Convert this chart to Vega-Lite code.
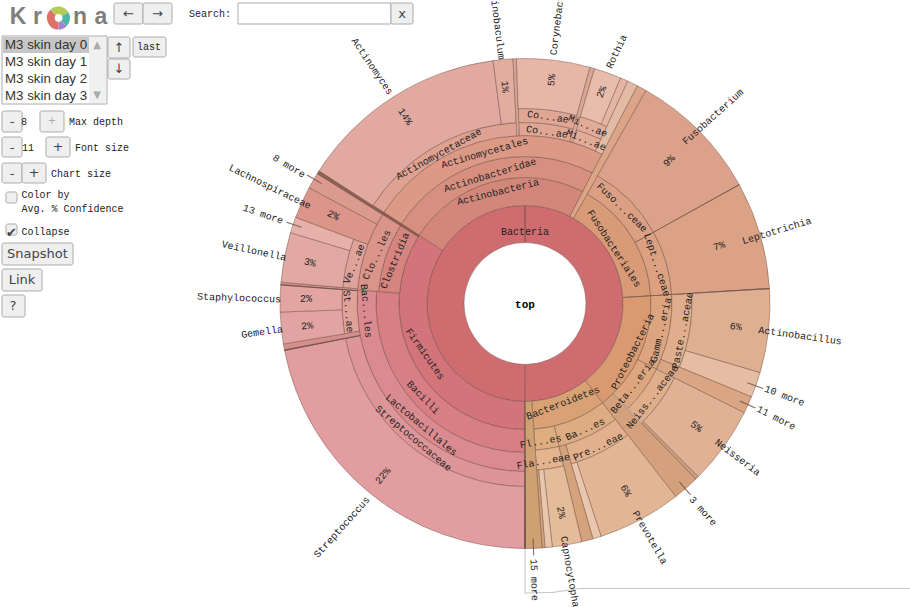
{"$schema":"https://vega.github.io/schema/vega-lite/v6.json","width":910,"height":607,"autosize":{"type":"none"},"padding":0,"background":"#ffffff","config":{"view":{"stroke":null}},
"datasets":{
"wedges":[
{"node":"Bacteria","t0":0,"t1":360,"r0":61,"r1":98},
{"node":"Firmicutes","t0":180,"t1":302.8,"r0":98,"r1":126},
{"node":"Actinobacteria","t0":-57.2,"t1":27.3,"r0":98,"r1":126},
{"node":"Fusobacteriales","t0":29.6,"t1":86.5,"r0":98,"r1":126},
{"node":"Proteobacteria","t0":86.5,"t1":142,"r0":98,"r1":126},
{"node":"Bacteroidetes","t0":142,"t1":176,"r0":98,"r1":126},
{"node":"Bacilli","t0":180,"t1":274.7,"r0":126,"r1":149},
{"node":"Clostridia","t0":274.7,"t1":302.8,"r0":126,"r1":147},
{"node":"Actinobacteridae","t0":-57.2,"t1":27.3,"r0":126,"r1":147},
{"node":"Fuso...ceae","t0":29.6,"t1":61,"r0":126,"r1":147},
{"node":"Lept...ceae","t0":61,"t1":86.5,"r0":126,"r1":147},
{"node":"Gamm...eria","t0":86.5,"t1":116.5,"r0":126,"r1":147},
{"node":"Beta...eria","t0":116.5,"t1":135.5,"r0":126,"r1":147},
{"node":"Ba...es","t0":142,"t1":166.6,"r0":126,"r1":147},
{"node":"Fl...es","t0":166.6,"t1":176,"r0":126,"r1":147},
{"node":"Lactobacillales","t0":180,"t1":274.7,"r0":149,"r1":168},
{"node":"Clo...les","t0":274.7,"t1":302.8,"r0":147,"r1":168},
{"node":"Actinomycetales","t0":-57.2,"t1":27.3,"r0":147,"r1":168},
{"node":"Paste...aceae","t0":86.5,"t1":112.4,"r0":147,"r1":167},
{"node":"Neiss...aceae","t0":116.5,"t1":135.5,"r0":147,"r1":167},
{"node":"Pre...eae","t0":142,"t1":163.9,"r0":147,"r1":167},
{"node":"Fla...eae","t0":166.6,"t1":176,"r0":147,"r1":167},
{"node":"Streptococcaceae","t0":180,"t1":259,"r0":168,"r1":183},
{"node":"St...ae","t0":260.5,"t1":274.5,"r0":168,"r1":183},
{"node":"Ve...ae","t0":275,"t1":290.6,"r0":168,"r1":183},
{"node":"Actinomycetaceae","t0":-57.2,"t1":-2.5,"r0":168,"r1":181},
{"node":"Co...ae","t0":-2,"t1":15.9,"r0":168,"r1":181},
{"node":"Mi...ae","t0":15.9,"t1":24.8,"r0":168,"r1":181},
{"node":"Co...ae","t0":-2,"t1":15.9,"r0":181,"r1":195},
{"node":"Mi...ae","t0":15.9,"t1":24.8,"r0":181,"r1":195},
{"node":"Streptococcus","t0":180,"t1":259,"r0":183,"r1":245},
{"node":"sliver red","t0":259,"t1":260.5,"r0":168,"r1":245},
{"node":"Gemella","t0":260.5,"t1":268,"r0":183,"r1":245},
{"node":"Staphylococcus","t0":268,"t1":274.5,"r0":183,"r1":245},
{"node":"sliver red","t0":274.4,"t1":275,"r0":168,"r1":245},
{"node":"Veillonella","t0":275,"t1":286.8,"r0":183,"r1":245},
{"node":"13 more","t0":286.8,"t1":290.6,"r0":183,"r1":245},
{"node":"Lachnospiraceae","t0":290.6,"t1":298.2,"r0":168,"r1":245},
{"node":"8 more","t0":298.2,"t1":302,"r0":168,"r1":245},
{"node":"dark","t0":302,"t1":302.8,"r0":126,"r1":245},
{"node":"Actinomyces","t0":-57.2,"t1":-7.5,"r0":181,"r1":245},
{"node":"Actinobaculum","t0":-7.5,"t1":-2.8,"r0":181,"r1":245},
{"node":"sliver tan","t0":-2.8,"t1":-2,"r0":168,"r1":245},
{"node":"Corynebacterium","t0":-2,"t1":15.4,"r0":195,"r1":245},
{"node":"sliver tan","t0":15.4,"t1":16.5,"r0":168,"r1":245},
{"node":"Rothia","t0":16.5,"t1":23,"r0":195,"r1":245},
{"node":"sliver rothia","t0":23,"t1":24.8,"r0":195,"r1":245},
{"node":"hatch rothia","t0":24.8,"t1":27.3,"r0":168,"r1":245},
{"node":"band orange","t0":27.3,"t1":29.6,"r0":98,"r1":245},
{"node":"Fusobacterium","t0":29.6,"t1":61,"r0":147,"r1":245},
{"node":"Leptotrichia","t0":61,"t1":86.5,"r0":147,"r1":245},
{"node":"Actinobacillus","t0":86.5,"t1":106.4,"r0":167,"r1":245},
{"node":"10 more","t0":106.4,"t1":112.4,"r0":167,"r1":245},
{"node":"11 more","t0":112.4,"t1":116.5,"r0":147,"r1":245},
{"node":"Neisseria","t0":116.5,"t1":135,"r0":167,"r1":245},
{"node":"sliver neisseria","t0":135,"t1":135.8,"r0":167,"r1":245},
{"node":"3 more","t0":135.8,"t1":142,"r0":126,"r1":245},
{"node":"Prevotella","t0":142,"t1":161.9,"r0":167,"r1":245},
{"node":"hatch light","t0":161.9,"t1":163.9,"r0":167,"r1":245},
{"node":"hatch dark","t0":163.9,"t1":166.6,"r0":147,"r1":245},
{"node":"Capnocytophaga","t0":166.6,"t1":173.6,"r0":167,"r1":245},
{"node":"hatch light","t0":173.6,"t1":175.3,"r0":167,"r1":245},
{"node":"hatch dark","t0":175.3,"t1":176,"r0":167,"r1":245},
{"node":"15 more","t0":176,"t1":180,"r0":98,"r1":245}
],
"dividers":[
{"edge":"root","t0":179.75,"t1":180.25,"r0":61,"r1":245},
{"edge":"proteo","t0":86.35,"t1":86.65,"r0":98,"r1":245},
{"edge":"fuso","t0":60.9,"t1":61.1,"r0":126,"r1":245},
{"edge":"staph","t0":274.2,"t1":274.5,"r0":168,"r1":245},
{"edge":"gemella","t0":258.85,"t1":259.15,"r0":168,"r1":245},
{"edge":"8 more","t0":300.4,"t1":300.65,"r0":236,"r1":253},
{"edge":"13 more","t0":288.7,"t1":288.95,"r0":236,"r1":252},
{"edge":"10 more","t0":109.5,"t1":109.75,"r0":236,"r1":253},
{"edge":"11 more","t0":114.3,"t1":114.55,"r0":236,"r1":253},
{"edge":"3 more","t0":139,"t1":139.25,"r0":236,"r1":253},
{"edge":"15 more","t0":177.9,"t1":178.15,"r0":235,"r1":252}
],
"labels":[
{"label":"Actinomyces","t":327.2,"r":282,"rot":56},
{"label":"Actinobaculum","t":354.3,"r":284,"rot":83},
{"label":"Corynebacterium","t":6.6,"r":295,"rot":-83},
{"label":"Rothia","t":20,"r":268,"rot":-65},
{"label":"Fusobacterium","t":45.2,"r":265,"rot":-42},
{"label":"Leptotrichia","t":73.9,"r":262,"rot":-17},
{"label":"Actinobacillus","t":96.7,"r":277,"rot":8},
{"label":"10 more","t":109.6,"r":275.5,"rot":21},
{"label":"11 more","t":114.5,"r":276,"rot":27},
{"label":"Neisseria","t":125.9,"r":262.4,"rot":37},
{"label":"3 more","t":139.4,"r":273.4,"rot":48},
{"label":"Prevotella","t":151.9,"r":265.3,"rot":60},
{"label":"Capnocytophaga","t":170.5,"r":278,"rot":80},
{"label":"15 more","t":178.1,"r":276.6,"rot":88},
{"label":"Streptococcus","t":219.3,"r":289,"rot":-48},
{"label":"Gemella","t":263.8,"r":264.5,"rot":-8},
{"label":"Staphylococcus","t":271.1,"r":286,"rot":2},
{"label":"Veillonella","t":281,"r":276,"rot":12},
{"label":"13 more","t":288.8,"r":276.7,"rot":19},
{"label":"Lachnospiraceae","t":294.6,"r":280.4,"rot":26},
{"label":"8 more","t":300.2,"r":273,"rot":31},
{"label":"14%","t":327.3,"r":222,"rot":57},
{"label":"1%","t":354.7,"r":217.7,"rot":85},
{"label":"5%","t":6.8,"r":225,"rot":-83},
{"label":"2%","t":19.9,"r":225,"rot":-70},
{"label":"9%","t":45.3,"r":202.6,"rot":-45},
{"label":"7%","t":73.5,"r":202.6,"rot":-16},
{"label":"6%","t":96.3,"r":212,"rot":6},
{"label":"5%","t":125.7,"r":211,"rot":36},
{"label":"6%","t":151.7,"r":212.6,"rot":62},
{"label":"2%","t":170.2,"r":212,"rot":80},
{"label":"22%","t":219.5,"r":223.4,"rot":-50},
{"label":"2%","t":264.1,"r":219,"rot":-6},
{"label":"2%","t":271.2,"r":219,"rot":0},
{"label":"3%","t":280.8,"r":219,"rot":11},
{"label":"2%","t":294.7,"r":211,"rot":25},
{"label":"Bacteria","t":0,"r":72,"rot":0},
{"label":"Firmicutes","t":243.2,"r":112,"rot":55},
{"label":"Bacilli","t":227.3,"r":138.7,"rot":46},
{"label":"Lactobacillales","t":220.5,"r":159.7,"rot":40},
{"label":"Streptococcaceae","t":219.6,"r":175,"rot":40},
{"label":"Clostridia","t":288.2,"r":136.9,"rot":-67},
{"label":"Clo...les","t":288.2,"r":156,"rot":-65},
{"label":"Ve...ae","t":283,"r":175.5,"rot":-68},
{"label":"Bac...les","t":267.3,"r":159,"rot":85},
{"label":"St...ae","t":267.4,"r":177,"rot":85},
{"label":"Actinomycetaceae","t":330,"r":172.5,"rot":-29},
{"label":"Actinomycetales","t":345,"r":155.9,"rot":-16},
{"label":"Actinobacteridae","t":344.8,"r":133,"rot":-17},
{"label":"Actinobacteria","t":346.4,"r":114.7,"rot":-14},
{"label":"Co...ae","t":7,"r":188,"rot":8},
{"label":"Mi...ae","t":19.5,"r":188.3,"rot":24},
{"label":"Co...ae","t":7.3,"r":173,"rot":8},
{"label":"Mi...ae","t":20.5,"r":174.5,"rot":22},
{"label":"Fusobacteriales","t":58.3,"r":104.6,"rot":57},
{"label":"Fuso...ceae","t":45.3,"r":136.5,"rot":44},
{"label":"Lept...ceae","t":73.7,"r":137.5,"rot":72},
{"label":"Proteobacteria","t":114,"r":118,"rot":-63},
{"label":"Gamm...eria","t":101,"r":138.6,"rot":-77},
{"label":"Beta...eria","t":127.5,"r":136,"rot":-52},
{"label":"Paste...aceae","t":99.7,"r":160,"rot":-79},
{"label":"Neiss...aceae","t":126.3,"r":158,"rot":-52},
{"label":"Bacteroidetes","t":159,"r":106.5,"rot":-21},
{"label":"Fl...es","t":173.5,"r":139,"rot":-10},
{"label":"Ba...es","t":154.4,"r":139.5,"rot":-24},
{"label":"Fla...eae","t":173.4,"r":158.9,"rot":-10},
{"label":"Pre...eae","t":153,"r":161,"rot":-25}
],
"buttons":[
{"x":114,"x2":143,"y":3,"y2":24},{"x":143,"x2":172,"y":3,"y2":24},{"x":391,"x2":413,"y":3,"y2":24},
{"x":108,"x2":130,"y":37,"y2":58},{"x":108,"x2":130,"y":59,"y2":79},{"x":133,"x2":166,"y":37,"y2":57},
{"x":2,"x2":22,"y":111,"y2":132},{"x":40,"x2":64,"y":111,"y2":132},
{"x":2,"x2":22,"y":137,"y2":157},{"x":46,"x2":70,"y":137,"y2":157},
{"x":2,"x2":22,"y":163,"y2":183},{"x":22,"x2":46,"y":163,"y2":183},
{"x":6,"x2":17,"y":192,"y2":203},{"x":6,"x2":17,"y":224,"y2":235},
{"x":2,"x2":73,"y":243,"y2":265},{"x":2,"x2":42,"y":269,"y2":291},{"x":2,"x2":25,"y":295,"y2":317}
],
"boxes":[{"x":238,"x2":391,"y":3,"y2":24},{"x":2,"x2":107,"y":36,"y2":104}],
"list":[{"x":89,"x2":106,"y":37,"y2":103,"part":"scroll"},{"x":3,"x2":89,"y":37,"y2":53,"part":"selected"}],
"frame":[{"x":525,"y":548,"i":0},{"x":525,"y":593,"i":1},{"x":552,"y":592.5,"i":2},{"x":580,"y":588.5,"i":3},{"x":910,"y":588.5,"i":4}],
"monoLeft":[
{"x":69,"y":122,"text":"Max depth"},{"x":75,"y":148,"text":"Font size"},{"x":51,"y":174,"text":"Chart size"},
{"x":21.5,"y":195,"text":"Color by"},{"x":21.5,"y":209,"text":"Avg. % Confidence"},{"x":21.5,"y":232,"text":"Collapse"},
{"x":189,"y":14,"text":"Search:"},{"x":21,"y":122,"text":"8"},{"x":22,"y":148,"text":"11"}
],
"monoCenter":[{"x":149,"y":47,"text":"last"}],
"sansLeft":[
{"x":5,"y":44.5,"text":"M3 skin day 0"},{"x":5,"y":61.5,"text":"M3 skin day 1"},{"x":5,"y":78.5,"text":"M3 skin day 2"},{"x":5,"y":95.5,"text":"M3 skin day 3"}
],
"sansCenter":[
{"x":402,"y":14,"text":"x"},{"x":128.5,"y":14,"text":"←"},{"x":157.5,"y":14,"text":"→"},{"x":119,"y":48,"text":"↑"},{"x":119,"y":69,"text":"↓"},
{"x":12,"y":122,"text":"-"},{"x":12,"y":148,"text":"-"},{"x":58,"y":147,"text":"+"},{"x":12,"y":174,"text":"-"},{"x":34,"y":173,"text":"+"},
{"x":11.5,"y":233,"text":"✔"},{"x":37.5,"y":254,"text":"Snapshot"},{"x":22,"y":280,"text":"Link"},{"x":13,"y":306,"text":"?"}
],
"grayCenter":[{"x":52,"y":121,"text":"+"},{"x":97,"y":45,"text":"▲"},{"x":97,"y":95,"text":"▼"}],
"logoLetters":[{"x":18,"y":17,"text":"K"},{"x":37.5,"y":17,"text":"r"},{"x":80,"y":17,"text":"n"},{"x":101,"y":17,"text":"a"}],
"wheel":[
{"slice":"red","t0":180,"t1":315,"x":58.5,"y":18},
{"slice":"green","t0":-45,"t1":60,"x":58.5,"y":18},
{"slice":"teal","t0":60,"t1":135,"x":58.5,"y":18},
{"slice":"purple","t0":135,"t1":180,"x":58.5,"y":18}
]
},
"layer":[
{"data":{"name":"frame"},"mark":{"type":"line","stroke":"#c4c4c4","strokeWidth":1},
"encoding":{"x":{"field":"x","type":"quantitative","scale":{"domain":[0,910],"range":[0,910],"nice":false},"axis":null},"y":{"field":"y","type":"quantitative","scale":{"domain":[0,607],"range":[0,607],"nice":false},"axis":null},"order":{"field":"i","type":"quantitative"}}},
{"data":{"name":"wedges"},"mark":{"type":"arc","stroke":"#5f4038","strokeWidth":0.8,"strokeOpacity":0.5},
"encoding":{
"x":{"datum":525,"type":"quantitative","axis":null},"y":{"datum":303.5,"type":"quantitative","axis":null},
"theta":{"field":"t0","type":"quantitative","stack":null,"scale":{"domain":[0,360],"range":[0,6.283185307]}},"theta2":{"field":"t1"},
"radius":{"field":"r1","type":"quantitative","scale":{"type":"linear","domain":[0,245],"range":[0,245],"nice":false}},"radius2":{"field":"r0"},
"fill":{"field":"node","type":"nominal","legend":null,"scale":{
"domain":["Bacteria","Firmicutes","Actinobacteria","Fusobacteriales","Proteobacteria","Bacteroidetes","Bacilli","Clostridia","Actinobacteridae","Fuso...ceae","Lept...ceae","Gamm...eria","Beta...eria","Ba...es","Fl...es","Lactobacillales","Clo...les","Actinomycetales","Paste...aceae","Neiss...aceae","Pre...eae","Fla...eae","Streptococcaceae","St...ae","Ve...ae","Actinomycetaceae","Co...ae","Mi...ae","Streptococcus","sliver red","Gemella","Staphylococcus","Veillonella","13 more","Lachnospiraceae","8 more","dark","Actinomyces","Actinobaculum","sliver tan","Corynebacterium","Rothia","sliver rothia","hatch rothia","band orange","Fusobacterium","Leptotrichia","Actinobacillus","10 more","11 more","Neisseria","sliver neisseria","3 more","Prevotella","hatch light","hatch dark","Capnocytophaga","15 more"],
"range":["#CE6C70","#D2747A","#D2877A","#D99A78","#D99A72","#D9A274","#D77F84","#D58480","#D79080","#DBA083","#DCA181","#DDA57F","#DEA67F","#DEAC83","#DFAE80","#DB8B8F","#DB9489","#DB9986","#E1AE8D","#E1AE8C","#E2B08D","#E3B48E","#DE9598","#E0A199","#E0A39B","#DFA192","#E0A693","#E2AB98","#E19DA0","#D58E8C","#E2A4A3","#E2A5A2","#E2A8A3","#E7B0A8","#DB9589","#DC9A8E","#8D5F55","#E2A9A0","#E2AC9F","#D9A595","#E6B6A8","#E7BCAB","#E4B5A2","#E3BBA5","#DCA588","#DBA18A","#DCA285","#DFAF92","#E6BDA3","#D9A583","#E0B194","#CD9D82","#D5A07C","#E2B694","#E8C7AD","#D6A27C","#E4BC9A","#CFA072"]}}}},
{"data":{"name":"dividers"},"mark":{"type":"arc","fill":"#6E5448","fillOpacity":0.85},
"encoding":{"x":{"datum":525,"type":"quantitative","axis":null},"y":{"datum":303.5,"type":"quantitative","axis":null},
"theta":{"field":"t0","type":"quantitative","stack":null},"theta2":{"field":"t1"},"radius":{"field":"r1","type":"quantitative"},"radius2":{"field":"r0"}}},
{"data":{"name":"labels"},"mark":{"type":"text","font":"Liberation Mono","fontSize":10,"fill":"#222222","align":"center","baseline":"middle"},
"encoding":{"x":{"datum":525,"type":"quantitative","axis":null},"y":{"datum":303.5,"type":"quantitative","axis":null},
"theta":{"field":"t","type":"quantitative","stack":null},"radius":{"field":"r","type":"quantitative"},"angle":{"field":"rot","type":"quantitative","scale":null},"text":{"field":"label"}}},
{"data":{"values":[{"label":"top"}]},"mark":{"type":"text","font":"Liberation Mono","fontSize":11,"fontWeight":"bold","fill":"#000000","align":"center","baseline":"middle"},
"encoding":{"x":{"datum":525,"type":"quantitative","axis":null},"y":{"datum":305,"type":"quantitative","axis":null},"text":{"field":"label"}}},
{"data":{"name":"boxes"},"mark":{"type":"rect","fill":"#ffffff","stroke":"#ababab","strokeWidth":1},
"encoding":{"x":{"field":"x","type":"quantitative","axis":null},"x2":{"field":"x2"},"y":{"field":"y","type":"quantitative","axis":null},"y2":{"field":"y2"}}},
{"data":{"name":"list"},"transform":[{"filter":"datum.part==='scroll'"}],"mark":{"type":"rect","fill":"#f0f0f0"},
"encoding":{"x":{"field":"x","type":"quantitative","axis":null},"x2":{"field":"x2"},"y":{"field":"y","type":"quantitative","axis":null},"y2":{"field":"y2"}}},
{"data":{"name":"list"},"transform":[{"filter":"datum.part==='selected'"}],"mark":{"type":"rect","fill":"#c6c6c6"},
"encoding":{"x":{"field":"x","type":"quantitative","axis":null},"x2":{"field":"x2"},"y":{"field":"y","type":"quantitative","axis":null},"y2":{"field":"y2"}}},
{"data":{"name":"buttons"},"mark":{"type":"rect","fill":"#efefef","stroke":"#ababab","strokeWidth":1,"cornerRadius":2},
"encoding":{"x":{"field":"x","type":"quantitative","axis":null},"x2":{"field":"x2"},"y":{"field":"y","type":"quantitative","axis":null},"y2":{"field":"y2"}}},
{"data":{"name":"monoLeft"},"mark":{"type":"text","font":"Liberation Mono","fontSize":10,"fill":"#222222","align":"left","baseline":"middle"},
"encoding":{"x":{"field":"x","type":"quantitative","axis":null},"y":{"field":"y","type":"quantitative","axis":null},"text":{"field":"text"}}},
{"data":{"name":"monoCenter"},"mark":{"type":"text","font":"Liberation Mono","fontSize":10,"fill":"#222222","align":"center","baseline":"middle"},
"encoding":{"x":{"field":"x","type":"quantitative","axis":null},"y":{"field":"y","type":"quantitative","axis":null},"text":{"field":"text"}}},
{"data":{"name":"sansLeft"},"mark":{"type":"text","font":"Liberation Sans","fontSize":13.3,"fill":"#333333","align":"left","baseline":"middle"},
"encoding":{"x":{"field":"x","type":"quantitative","axis":null},"y":{"field":"y","type":"quantitative","axis":null},"text":{"field":"text"}}},
{"data":{"name":"sansCenter"},"mark":{"type":"text","font":"DejaVu Sans","fontSize":13,"fill":"#444444","align":"center","baseline":"middle"},
"encoding":{"x":{"field":"x","type":"quantitative","axis":null},"y":{"field":"y","type":"quantitative","axis":null},"text":{"field":"text"}}},
{"data":{"name":"grayCenter"},"mark":{"type":"text","font":"DejaVu Sans","fontSize":10,"fill":"#aaaaaa","align":"center","baseline":"middle"},
"encoding":{"x":{"field":"x","type":"quantitative","axis":null},"y":{"field":"y","type":"quantitative","axis":null},"text":{"field":"text"}}},
{"data":{"name":"logoLetters"},"mark":{"type":"text","font":"Liberation Sans","fontSize":23,"fontWeight":"bold","fill":"#7f7f7f","align":"center","baseline":"middle"},
"encoding":{"x":{"field":"x","type":"quantitative","axis":null},"y":{"field":"y","type":"quantitative","axis":null},"text":{"field":"text"}}},
{"data":{"name":"wheel"},"mark":{"type":"arc","innerRadius":4},
"encoding":{"x":{"field":"x","type":"quantitative","axis":null},"y":{"field":"y","type":"quantitative","axis":null},
"theta":{"field":"t0","type":"quantitative","stack":null},"theta2":{"field":"t1"},"radius":{"datum":11.5,"type":"quantitative"},
"fill":{"field":"slice","type":"nominal","legend":null,"scale":{"domain":["red","green","teal","purple"],"range":["#DF6F69","#B4CB58","#4FB6A6","#A584CF"]}}}}
],
"resolve":{"scale":{"fill":"independent"}}
}
